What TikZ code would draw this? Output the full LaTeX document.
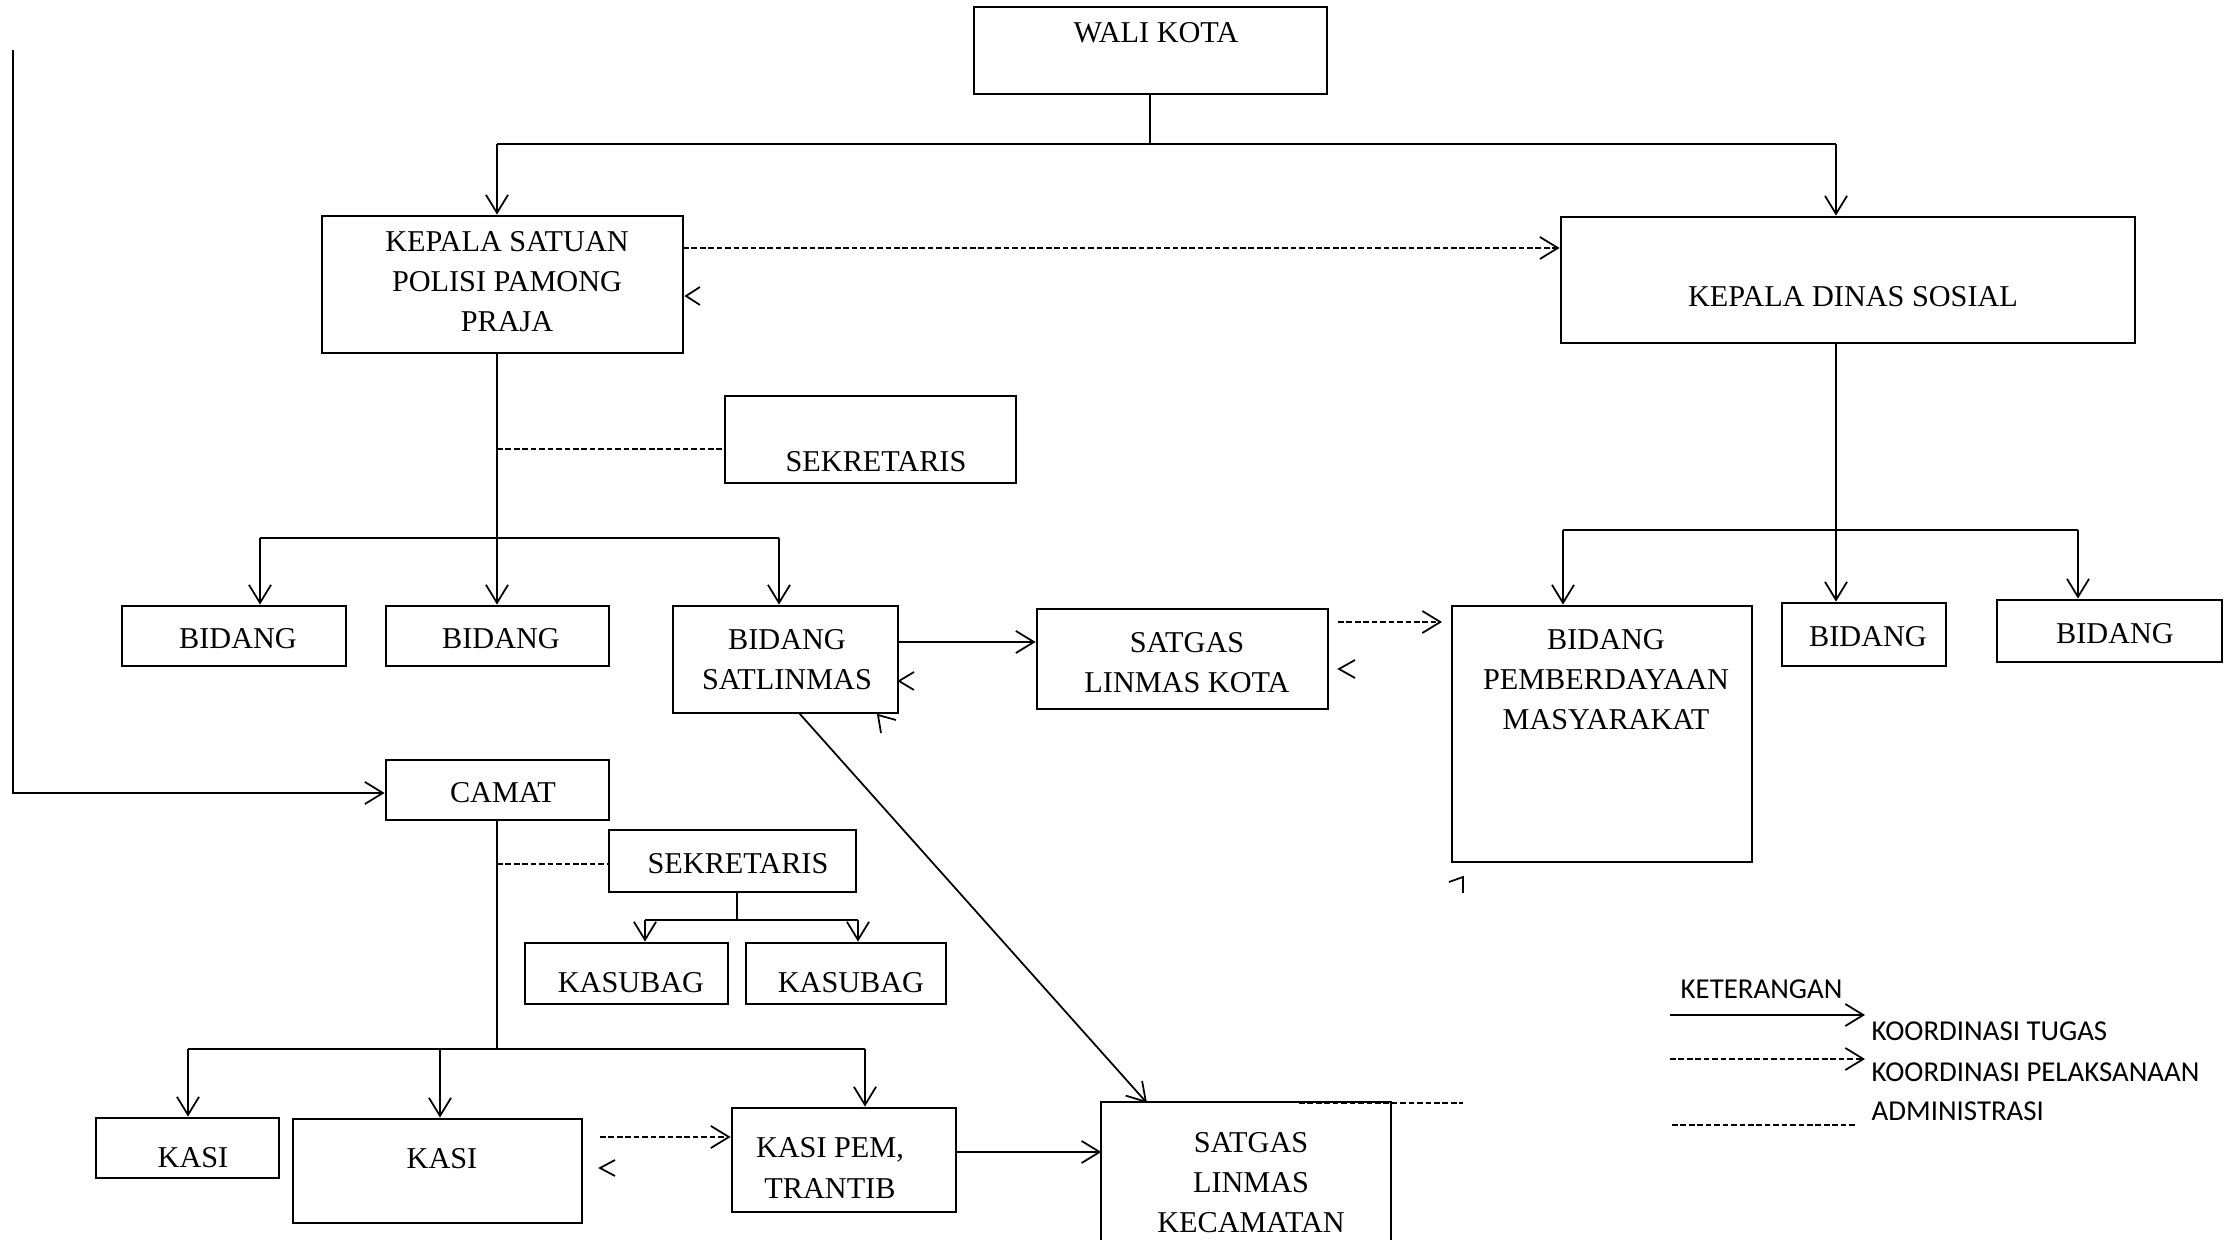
\documentclass[tikz,border=0pt]{standalone}
\usepackage{fontspec}
\setmainfont{Liberation Serif}
\newfontfamily\legfont{Carlito}
\usetikzlibrary{arrows.meta,fit}
\begin{document}
\begin{tikzpicture}[x=0.01cm,y=-0.01cm,
  box/.style={draw, line width=0.8pt, inner sep=0pt},
  ghost/.style={draw=none, inner sep=0pt},
  txt/.style={font=\fontsize{8.6}{11.4}\selectfont, align=center, inner sep=0pt},
  leg/.style={font=\legfont\fontsize{8.2}{10}\selectfont, inner sep=0pt, anchor=west},
  conn/.style={line width=0.5pt},
  tip/.style={conn,-{Straight Barb[length=1.8mm,width=2.2mm]}},
  dsh/.style={conn,dash pattern=on 1.6pt off 0.8pt},
  stray/.style={line width=0.5pt}
]
\useasboundingbox[fill=white] (0,0) rectangle (2232,1240);

% ---------- boxes ----------
\node[box, fit={(974,7) (1327,94)}] (wk) {};
\node[txt] (wkt) at (1156,33) {WALI KOTA};

\node[box, fit={(322,216) (683,353)}] (kp) {};
\node[txt] (kpt) at (507,282) {KEPALA SATUAN\\POLISI PAMONG\\PRAJA};

\node[box, fit={(1561,217) (2135,343)}] (kd) {};
\node[txt] (kdt) at (1853,297) {KEPALA DINAS SOSIAL};

\node[box, fit={(725,396) (1016,483)}] (sk) {};
\node[txt] (skt) at (876,462) {SEKRETARIS};

\node[box, fit={(122,606) (346,666)}] (bd1) {};
\node[txt] (bd1t) at (238,639) {BIDANG};
\node[box, fit={(386,606) (609,666)}] (bd2) {};
\node[txt] (bd2t) at (501,639) {BIDANG};
\node[box, fit={(673,606) (898,713)}] (bs) {};
\node[txt] (bst) at (787,660) {BIDANG\\SATLINMAS};

\node[box, fit={(1037,609) (1328,709)}] (sko) {};
\node[txt] (skot) at (1187,663) {SATGAS\\LINMAS KOTA};

\node[box, fit={(1452,606) (1752,862)}] (bpm) {};
\node[txt] (bpmt) at (1606,680) {BIDANG\\PEMBERDAYAAN\\MASYARAKAT};

\node[box, fit={(1782,603) (1946,666)}] (bd3) {};
\node[txt] (bd3t) at (1868,637) {BIDANG};
\node[box, fit={(1997,600) (2222,662)}] (bd4) {};
\node[txt] (bd4t) at (2115,634) {BIDANG};

\node[box, fit={(386,760) (609,820)}] (cm) {};
\node[txt] (cmt) at (503,793) {CAMAT};

\node[box, fit={(609,830) (856,892)}] (sk2) {};
\node[txt] (sk2t) at (738,864) {SEKRETARIS};

\node[box, fit={(525,943) (728,1004)}] (ks1) {};
\node[txt] (ks1t) at (631,983) {KASUBAG};
\node[box, fit={(746,943) (946,1004)}] (ks2) {};
\node[txt] (ks2t) at (851,983) {KASUBAG};

\node[box, fit={(96,1118) (279,1178)}] (ka1) {};
\node[txt] (ka1t) at (193,1158) {KASI};
\node[box, fit={(293,1119) (582,1223)}] (ka2) {};
\node[txt] (ka2t) at (442,1159) {KASI};
\node[box, fit={(732,1108) (956,1212)}] (kpm) {};
\node[txt] (kpmt) at (830,1168) {KASI PEM,\\TRANTIB};

\node[ghost, fit={(1102,1103) (1390,1240)}] (sgk) {};
\draw[line width=0.55pt] (sgk.south west) -- (sgk.north west) -- (sgk.north east) -- (sgk.south east);
\node[txt] (sgkt) at (1251,1183) {SATGAS\\LINMAS\\KECAMATAN};

% ---------- connectors: top ----------
\coordinate (jt) at (1150,144);
\coordinate (jl) at (497,144);
\coordinate (jr) at (1836,144);
\draw[conn] (wk.south -| jt) -- (jt);
\draw[conn] (jl) -- (jr);
\draw[tip] (jl) -- (jl |- kp.north);
\draw[tip] (jr) -- (jr |- kd.north);

\coordinate (d1) at (683,248);
\draw[tip,dsh] (d1) -- (d1 -| kd.west);
\draw[stray] (700,287) -- (686,296) -- (700,305);

% ---------- Satpol PP branch ----------
\coordinate (b0) at (497,538);
\coordinate (bl) at (260,538);
\coordinate (br) at (779,538);
\draw[tip] (kp.south -| b0) -- (b0 |- bd2.north);
\draw[conn] (bl) -- (br);
\draw[tip] (bl) -- (bl |- bd1.north);
\draw[tip] (br) -- (br |- bs.north);
\coordinate (s0) at (497,449);
\draw[dsh] (s0) -- (s0 -| sk.west);

\coordinate (h1) at (898,642);
\draw[tip] (h1) -- (h1 -| sko.west);
\draw[stray] (914,672) -- (899,681) -- (914,690);

\coordinate (h2) at (1338,622);
\coordinate (h2e) at (1442,622);
\draw[tip,dsh] (h2) -- (h2e);
\draw[stray] (1355,660) -- (1339,669) -- (1355,678);

\coordinate (bsb) at (799,713);
\coordinate (dg) at (1147,1103);
\draw[tip] (bsb) -- (dg);
\draw[stray] (881,733) -- (878,715) -- (896,720);

% ---------- Dinas Sosial branch ----------
\coordinate (k0) at (1836,530);
\coordinate (kl) at (1563,530);
\coordinate (kr) at (2078,530);
\draw[tip] (kd.south -| k0) -- (k0 |- bd3.north);
\draw[conn] (kl) -- (kr);
\draw[tip] (kl) -- (kl |- bpm.north);
\draw[tip] (kr) -- (kr |- bd4.north);
\draw[stray] (1449,882) -- (1463,877) -- (1463,893);

% ---------- Camat branch ----------
\coordinate (lt) at (13,50);
\coordinate (lb) at (13,793);
\draw[tip] (lt) -- (lb) -- (lb -| cm.west);

\coordinate (c0) at (497,1049);
\draw[conn] (cm.south -| c0) -- (c0);
\coordinate (c1) at (497,864);
\draw[dsh] (c1) -- (c1 -| sk2.west);

\coordinate (s2) at (737,920);
\coordinate (s2l) at (645,920);
\coordinate (s2r) at (858,920);
\draw[conn] (sk2.south -| s2) -- (s2);
\draw[conn] (s2l) -- (s2r);
\draw[tip] (s2l) -- (s2l |- ks1.north);
\draw[tip] (s2r) -- (s2r |- ks2.north);

\coordinate (cl) at (188,1049);
\coordinate (cmd) at (440,1049);
\coordinate (cr) at (865,1049);
\draw[conn] (cl) -- (cr);
\draw[tip] (cl) -- (cl |- ka1.north);
\draw[tip] (cmd) -- (cmd |- ka2.north);
\draw[tip] (cr) -- (cr |- kpm.north);

\coordinate (h3) at (600,1137);
\draw[tip,dsh] (h3) -- (h3 -| kpm.west);
\draw[stray] (615,1160) -- (600,1168) -- (615,1176);

\coordinate (h4) at (956,1152);
\draw[tip] (h4) -- (h4 -| sgk.west);

\coordinate (t1) at (1299,1103);
\coordinate (t2) at (1463,1103);
\draw[dsh] (t1) -- (t2);

% ---------- legend ----------
\node[leg] (ket) at (1680,989) {KETERANGAN};
\coordinate (l1a) at (1670,1015);
\coordinate (l1b) at (1865,1015);
\draw[tip] (l1a) -- (l1b);
\node[leg] (lt1) at (1871,1031) {KOORDINASI TUGAS};
\coordinate (l2a) at (1670,1059);
\coordinate (l2b) at (1865,1059);
\draw[tip,dsh] (l2a) -- (l2b);
\node[leg] (lt2) at (1871,1072) {KOORDINASI PELAKSANAAN};
\coordinate (l3a) at (1672,1125);
\coordinate (l3b) at (1855,1125);
\draw[dsh] (l3a) -- (l3b);
\node[leg] (lt3) at (1871,1111) {ADMINISTRASI};
\end{tikzpicture}
\end{document}
